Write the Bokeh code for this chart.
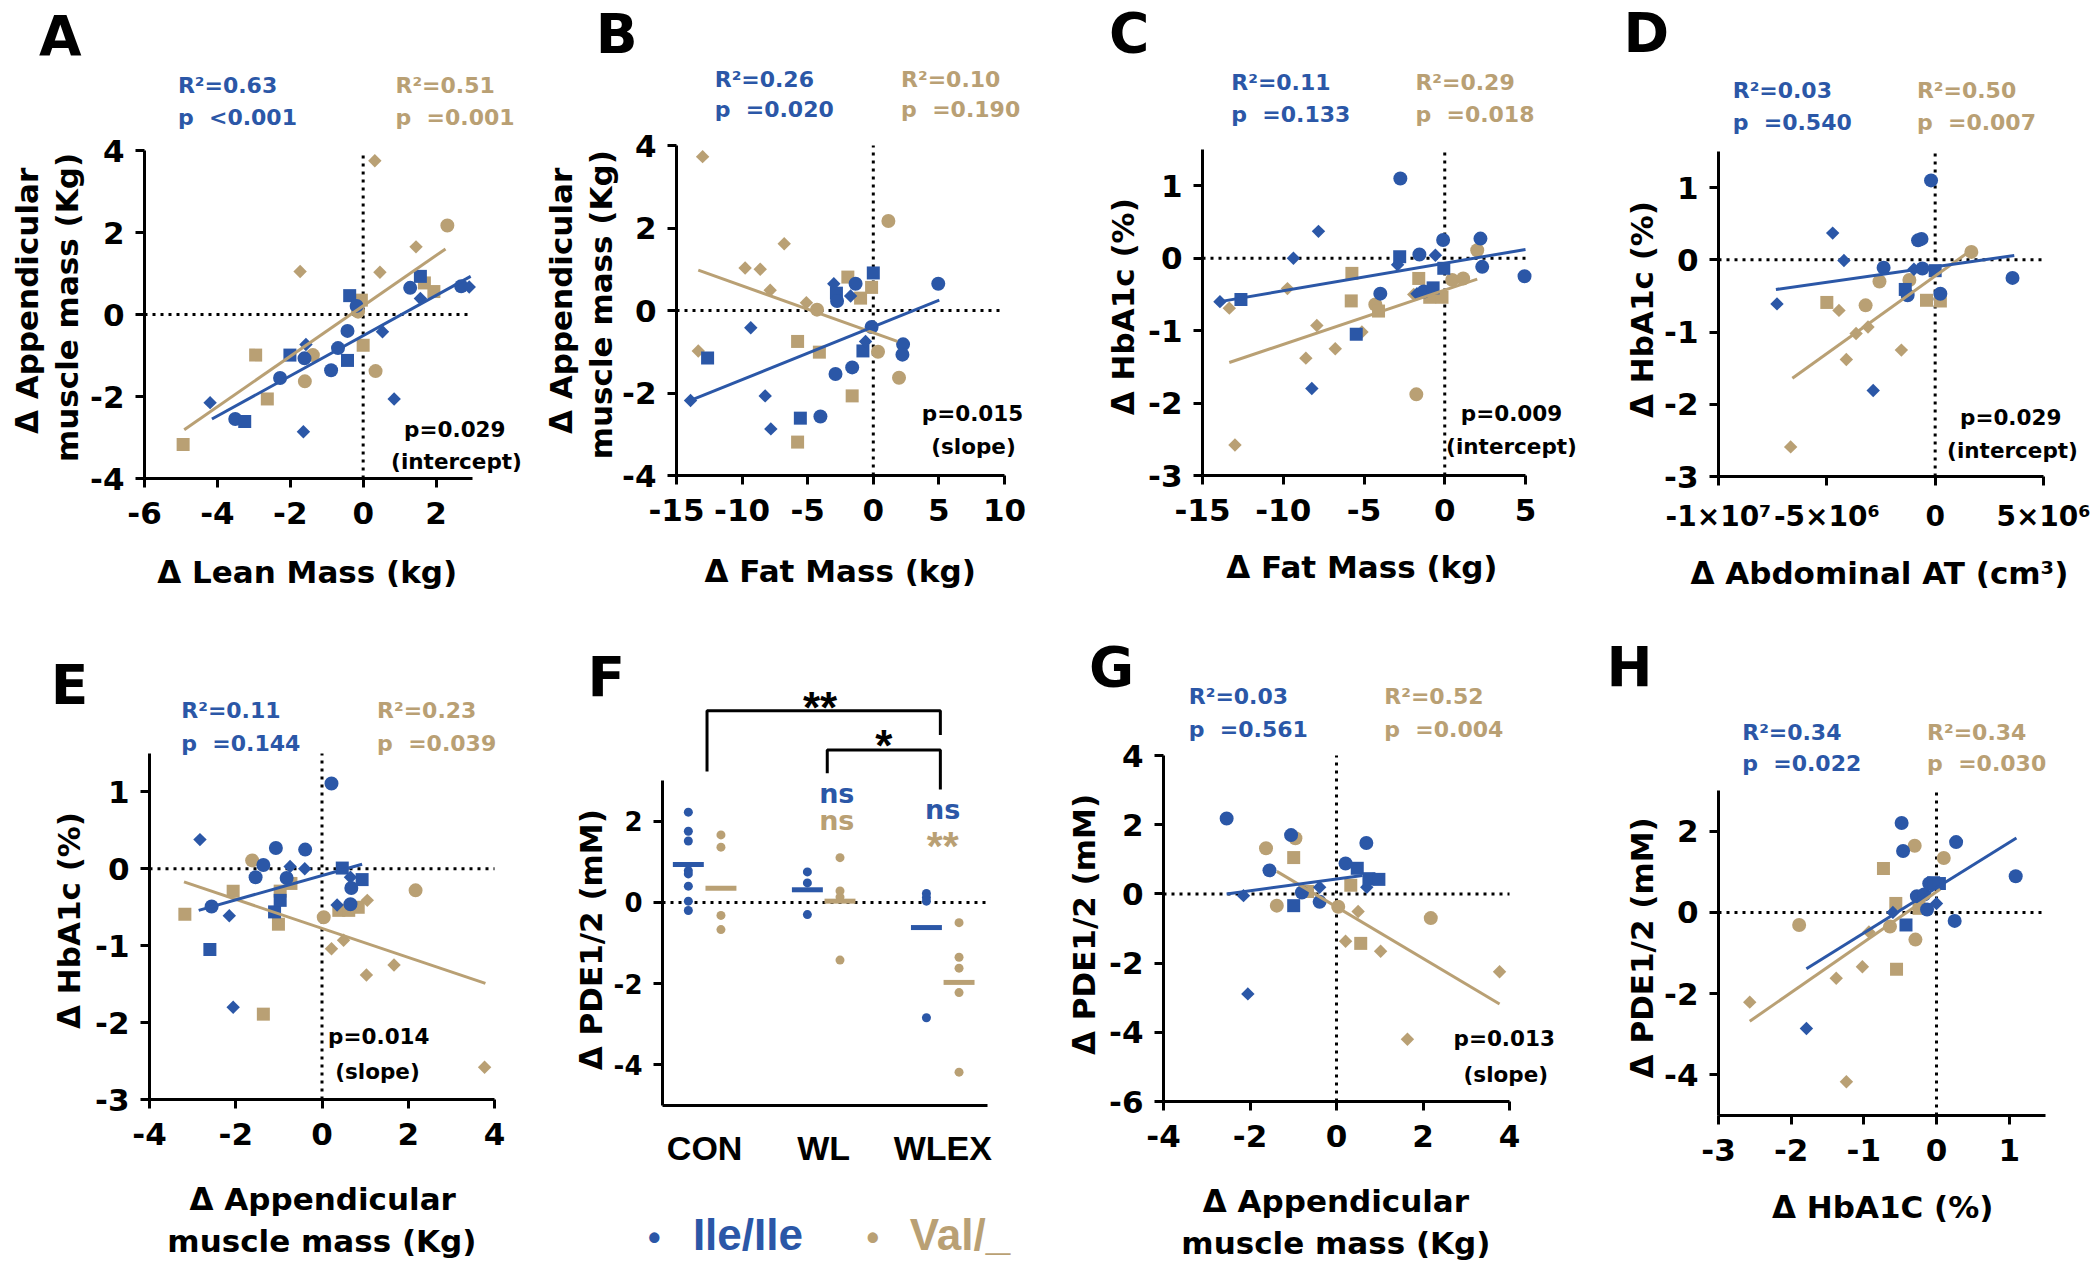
import numpy as np
from bokeh.plotting import figure
from bokeh.models import Range1d, Label, FixedTicker, ColumnDataSource, LinearAxis
from bokeh.layouts import row, column
from bokeh.embed import file_html
from bokeh.resources import INLINE

# ---------------- data ----------------
# marker codes: c = circle, s = square, d = diamond
A_xticks = [-6, -4, -2, 0, 2]
A_yticks = [-4, -2, 0, 2, 4]
A_ile_x = [-4.20, -3.51, -3.25, -2.28, -2.01, -1.61, -1.57, -1.64, -0.88, -0.69, -0.43, -0.43, -0.37, -0.18, 0.53, 0.85, 1.29, 1.57, 1.57, 2.69, 2.91]
A_ile_y = [-2.15, -2.55, -2.61, -1.55, -0.99, -1.07, -0.73, -2.86, -1.36, -0.82, -1.12, -0.40, 0.46, 0.21, -0.42, -2.06, 0.65, 0.93, 0.39, 0.69, 0.67]
A_ile_m = list("dcscscddccscscddcsdcd")
A_val_x = [-4.94, -2.95, -2.63, -1.73, -1.38, -1.60, -0.14, -0.05, 0.00, 0.32, 0.34, 0.46, 1.45, 1.68, 1.94, 2.31]
A_val_y = [-3.17, -0.99, -2.06, 1.05, -0.99, -1.63, 0.07, 0.35, -0.75, 3.75, -1.38, 1.03, 1.65, 0.77, 0.56, 2.17]
A_val_m = list("sssdcccssdcddssc")
A_ile_fit_x = [-4.15, 2.95]
A_ile_fit_y = [-2.55, 0.93]
A_val_fit_x = [-4.91, 2.26]
A_val_fit_y = [-2.81, 1.60]

B_xticks = [-15, -10, -5, 0, 5, 10]
B_yticks = [-4, -2, 0, 2, 4]
B_ile_x = [-13.93, -12.63, -9.34, -8.24, -7.81, -5.56, -4.03, -3.01, -2.81, -2.76, -2.88, -1.73, -1.35, -1.61, -0.79, -0.59, 0.00, -0.13, 2.27, 2.22, 4.95]
B_ile_y = [-2.18, -1.15, -0.42, -2.07, -2.87, -2.61, -2.57, 0.65, 0.42, 0.23, -1.54, 0.35, 0.65, -1.38, -0.98, -0.75, 0.91, -0.40, -0.82, -1.07, 0.65]
B_ile_m = list("dsdddscdsccdccsdscccc")
B_val_x = [-13.01, -13.34, -9.77, -8.62, -7.86, -6.79, -5.10, -4.29, -5.77, -4.11, -5.77, -1.94, -0.97, -0.13, -1.61, 0.36, 1.15, 1.96]
B_val_y = [3.73, -0.98, 1.03, 1.00, 0.49, 1.62, 0.19, 0.02, -0.75, -1.01, -3.19, 0.81, 0.30, 0.56, -2.07, -1.00, 2.17, -1.63]
B_val_m = list("dddddddcsssssssccc")
B_ile_fit_x = [-13.93, 5.03]
B_ile_fit_y = [-2.18, 0.25]
B_val_fit_x = [-13.34, 1.84]
B_val_fit_y = [0.98, -0.75]

C_xticks = [-15, -10, -5, 0, 5]
C_yticks = [-3, -2, -1, 0, 1]
C_ile_x = [-13.92, -12.62, -9.37, -7.82, -8.23, -5.48, -3.99, -2.75, -2.79, -2.92, -1.57, -1.72, -1.30, -0.72, -0.58, -0.10, -0.06, 2.21, 2.32, 4.94]
C_ile_y = [-0.60, -0.57, 0.00, 0.37, -1.80, -1.05, -0.49, 1.10, 0.02, -0.09, 0.05, -0.49, -0.46, -0.41, 0.04, 0.25, -0.14, 0.27, -0.12, -0.25]
C_ile_m = list("dsdddsccsdcdcsdcsccc")
C_val_x = [-13.34, -12.99, -9.74, -7.92, -8.60, -6.78, -5.13, -5.75, -5.79, -4.30, -4.10, -1.61, -1.92, -1.76, -0.93, -0.17, 0.46, 1.14, 2.01]
C_val_y = [-0.69, -2.58, -0.42, -0.93, -1.38, -1.25, -1.02, -0.21, -0.59, -0.64, -0.73, -0.28, -0.50, -1.88, -0.54, -0.54, -0.30, -0.28, 0.11]
C_val_m = list("dddddddsscssdcssccc")
C_ile_fit_x = [-13.92, 5.0]
C_ile_fit_y = [-0.60, 0.12]
C_val_fit_x = [-13.34, 2.01]
C_val_fit_y = [-1.44, -0.29]

D_xticks = [-10000000, -5000000, 0, 5000000]
D_xlabels = ["-1×10⁷", "-5×10⁶", "0", "5×10⁶"]
D_yticks = [-3, -2, -1, 0, 1]
D_ile_x = [-7.30e6, -4.73e6, -4.21e6, -2.86e6, -2.38e6, -1.38e6, -1.27e6, -0.98e6, -0.79e6, -0.63e6, -0.59e6, -0.19e6, 0.0, 0.24e6, 3.57e6]
D_ile_y = [-0.61, 0.37, -0.01, -1.81, -0.11, -0.41, -0.49, -0.13, 0.27, 0.29, -0.12, 1.10, -0.15, -0.47, -0.25]
D_ile_m = list("ddddcscdccccscc")
D_val_x = [-6.67e6, -5.0e6, -4.44e6, -4.10e6, -3.65e6, -3.10e6, -3.21e6, -2.57e6, -1.56e6, -1.19e6, -0.40e6, 0.24e6, 1.67e6]
D_val_y = [-2.59, -0.59, -0.70, -1.38, -1.02, -0.93, -0.63, -0.30, -1.25, -0.28, -0.56, -0.57, 0.11]
D_val_m = list("dsddddccdcssc")
D_ile_fit_x = [-7.35e6, 3.65e6]
D_ile_fit_y = [-0.41, 0.06]
D_val_fit_x = [-6.59e6, 1.6e6]
D_val_fit_y = [-1.64, 0.12]

E_xticks = [-4, -2, 0, 2, 4]
E_yticks = [-3, -2, -1, 0, 1]
E_ile_x = [-2.83, -2.56, -2.60, -2.15, -2.06, -1.54, -1.36, -1.07, -1.10, -0.97, -0.82, -0.74, -0.40, -0.39, 0.22, 0.35, 0.47, 0.66, 0.68, 0.66, 0.93]
E_ile_y = [0.38, -0.49, -1.05, -0.61, -1.80, -0.11, 0.05, 0.27, -0.56, -0.41, -0.12, 0.03, 0.00, 0.25, 1.11, -0.47, 0.01, -0.11, -0.25, -0.46, -0.14]
E_ile_m = list("dcsddcccsscddccdsdccs")
E_val_x = [-3.18, -2.06, -1.62, -1.36, -1.01, -0.72, -0.97, 0.04, 0.22, 0.50, 0.39, 0.62, 0.84, 1.05, 1.03, 1.67, 2.17, 3.77]
E_val_y = [-0.59, -0.29, 0.11, -1.89, -0.72, -0.19, -0.29, -0.63, -1.04, -0.93, -0.54, -0.54, -0.50, -0.41, -1.38, -1.25, -0.28, -2.58]
E_val_m = list("sscsssscddsssdddcd")
E_ile_fit_x = [-2.86, 0.93]
E_ile_fit_y = [-0.54, 0.06]
E_val_fit_x = [-3.20, 3.79]
E_val_fit_y = [-0.17, -1.49]

F_groups = ["CON", "WL", "WLEX"]
F_yticks = [-4, -2, 0, 2]
F_ile_CON = [2.22, 1.75, 1.51, 0.78, 0.70, 0.40, 0.03, -0.20]
F_ile_WL = [0.75, 0.48, -0.30]
F_ile_WLEX = [0.22, 0.12, 0.03, -2.84]
F_val_CON = [1.66, 1.36, -0.32, -0.67]
F_val_WL = [1.10, 0.28, 0.13, -1.42]
F_val_WLEX = [-0.50, -1.35, -1.62, -2.22, -4.18]
F_ile_mean = [0.93, 0.31, -0.62]
F_val_mean = [0.35, 0.03, -1.97]
F_bracket_from = [0.02, 1.03]
F_bracket_to = [1.98, 1.98]
F_bracket_top = [4.72, 3.75]
F_bracket_left_end = [3.22, 3.18]
F_bracket_right_end = [4.12, 2.78]
F_bracket_text = ["**", "*"]

G_xticks = [-4, -2, 0, 2, 4]
G_yticks = [-6, -4, -2, 0, 2, 4]
G_ile_x = [-2.54, -2.15, -2.05, -1.55, -1.05, -0.99, -0.80, -0.39, -0.39, 0.21, 0.48, 0.69, 0.70, 0.75, 0.98]
G_ile_y = [2.18, -0.05, -2.89, 0.68, 1.70, -0.34, 0.04, 0.19, -0.23, 0.88, 0.74, 1.47, 0.19, 0.44, 0.42]
G_ile_m = list("cddccscdccscdss")
G_val_x = [-1.63, -1.38, -0.95, -0.99, -0.67, 0.04, 0.21, 0.33, 0.50, 0.56, 1.02, 1.64, 2.18, 3.77]
G_val_y = [1.32, -0.34, 1.61, 1.05, 0.07, -0.37, -1.37, 0.25, -0.51, -1.43, -1.66, -4.20, -0.70, -2.25]
G_val_m = list("cccsscdsdsddcd")
G_ile_fit_x = [-2.54, 0.60]
G_ile_fit_y = [0.0, 0.53]
G_val_fit_x = [-1.38, 3.77]
G_val_fit_y = [0.65, -3.18]

H_xticks = [-3, -2, -1, 0, 1]
H_yticks = [-4, -2, 0, 2]
H_ile_x = [-1.79, -0.60, -0.48, -0.46, -0.42, -0.27, -0.17, -0.13, -0.10, -0.04, 0.00, 0.04, 0.27, 0.25, 1.09]
H_ile_y = [-2.86, 0.00, 2.20, 1.51, -0.31, 0.40, 0.44, 0.07, 0.71, 0.73, 0.22, 0.71, 1.73, -0.21, 0.89]
H_ile_m = list("ddccsccccsdsccc")
H_val_x = [-2.57, -1.89, -1.38, -1.24, -1.02, -0.93, -0.73, -0.64, -0.56, -0.55, -0.30, -0.29, -0.24, 0.10]
H_val_y = [-2.21, -0.31, -1.62, -4.17, -1.34, -0.48, 1.08, -0.35, 0.22, -1.40, 1.64, -0.67, 0.10, 1.34]
H_val_m = list("dcddddscssccsc")
H_ile_fit_x = [-1.79, 1.10]
H_ile_fit_y = [-1.39, 1.83]
H_val_fit_x = [-2.57, 0.05]
H_val_fit_y = [-2.68, 0.57]

# ---------------- styling / layout ----------------
BLUE = "#2B57A7"
TAN = "#B9A074"
FONT = "DejaVu Sans"        # wide bold sans, matches the stretched lettering of the panels
FONT2 = "Liberation Sans"   # narrower sans for category labels and legend
NB = "\u00a0\u00a0"

COLS = [0, 528, 1052, 1597, 2098]   # page x boundaries of the 4 columns
ROWS = [0, 628, 1270]               # page y boundaries of the 2 rows

MARK = {"c": ("circle", 14, 0.0), "s": ("square", 13, 0.0), "d": ("square", 9.5, np.pi / 4)}
TICK = 31
LETTER, STAT, NOTE, AXT, NS = 55, 22, 21.5, 31, 27
HALF_PI = np.pi / 2


def tick_labels(ticks):
    return [str(t) for t in ticks]


def style_axis(ax, ticks, labels, standoff):
    ax.ticker = FixedTicker(ticks=ticks)
    ax.major_label_overrides = dict(zip(ticks, labels))
    ax.axis_line_width = 3
    ax.axis_line_color = "black"
    ax.major_tick_line_width = 3
    ax.major_tick_line_color = "black"
    ax.major_tick_out = 9
    ax.major_tick_in = 0
    ax.minor_tick_line_color = None
    ax.major_label_text_font = FONT
    ax.major_label_text_font_style = "bold"
    ax.major_label_text_font_size = f"{TICK}px"
    ax.major_label_text_color = "black"
    ax.major_label_standoff = standoff


class Panel:
    """A figure filling one cell; the axes box sits at page pixels L,R,T,B."""

    def __init__(self, col, rw, frame, xr, yr, xticks, xlabels, yticks, ylabels):
        cx0, cx1 = COLS[col], COLS[col + 1]
        cy0, cy1 = ROWS[rw], ROWS[rw + 1]
        L, R, T, B = frame
        x0, x1 = xr
        y0, y1 = yr
        sx = (x1 - x0) / (R - L)
        sy = (y1 - y0) / (B - T)
        self.X0, self.X1 = x0 - (L - cx0) * sx, x1 + (cx1 - R) * sx
        self.Y0, self.Y1 = y0 - (cy1 - B) * sy, y1 + (T - cy0) * sy
        self.cx0, self.cx1, self.cy0, self.cy1 = cx0, cx1, cy0, cy1
        self.xr, self.yr = xr, yr
        p = figure(width=cx1 - cx0, height=cy1 - cy0,
                   x_range=Range1d(self.X0, self.X1), y_range=Range1d(self.Y0, self.Y1),
                   x_axis_type=None, y_axis_type=None, min_border=0,
                   output_backend="svg", toolbar_location=None, tools="")
        p.outline_line_color = None
        p.xgrid.visible = False
        p.ygrid.visible = False
        self.xaxis = LinearAxis(fixed_location=y0, bounds=(x0, x1))
        self.yaxis = LinearAxis(fixed_location=x0, bounds=(y0, y1))
        style_axis(self.xaxis, xticks, xlabels, 14)
        style_axis(self.yaxis, yticks, ylabels, 11)
        p.add_layout(self.xaxis, "below")
        p.add_layout(self.yaxis, "left")
        self.p = p

    def dx(self, px):
        return self.X0 + (px - self.cx0) / (self.cx1 - self.cx0) * (self.X1 - self.X0)

    def dy(self, py):
        return self.Y1 - (py - self.cy0) / (self.cy1 - self.cy0) * (self.Y1 - self.Y0)

    def text(self, px, py, s, size, color="black", align="left", angle=0.0, font=FONT):
        self.p.add_layout(Label(x=self.dx(px), y=self.dy(py), text=s, text_font=font,
                                text_font_style="bold", text_font_size=f"{size}px",
                                text_color=color, text_align=align, text_baseline="middle",
                                angle=angle))

    def zero_lines(self, vertical=True):
        x0, x1 = self.xr
        y0, y1 = self.yr
        self.p.line([x0, x1], [0, 0], line_color="black", line_width=3, line_dash="3 5")
        if vertical:
            self.p.line([0, 0], [y0, y1], line_color="black", line_width=3, line_dash="3 5")

    def points(self, xs, ys, ms, color):
        src = ColumnDataSource(dict(x=xs, y=ys,
                                    marker=[MARK[m][0] for m in ms],
                                    size=[MARK[m][1] for m in ms],
                                    angle=[MARK[m][2] for m in ms]))
        self.p.scatter("x", "y", source=src, marker="marker", size="size", angle="angle",
                       fill_color=color, line_color=None)

    def fit(self, xs, ys, color):
        self.p.line(xs, ys, line_width=3, line_color=color)


def scatter_panel(col, rw, frame, xr, yr, xt, xl, yt, yl, ile, val, ile_fit, val_fit):
    pn = Panel(col, rw, frame, xr, yr, xt, xl, yt, yl)
    pn.zero_lines()
    pn.points(*val, TAN)
    pn.points(*ile, BLUE)
    pn.fit(*val_fit, TAN)
    pn.fit(*ile_fit, BLUE)
    return pn


def stats(pn, letter, lpos, bx, tx, y1, y2, ile_txt, val_txt):
    pn.text(lpos[0], lpos[1], letter, LETTER)
    pn.text(bx, y1, ile_txt[0], STAT, BLUE)
    pn.text(bx, y2, ile_txt[1], STAT, BLUE)
    pn.text(tx, y1, val_txt[0], STAT, TAN)
    pn.text(tx, y2, val_txt[1], STAT, TAN)


# ---- A ----
pA = scatter_panel(0, 0, (144, 472, 150, 478), (-6, 3), (-4, 4), A_xticks, tick_labels(A_xticks),
                   A_yticks, tick_labels(A_yticks), (A_ile_x, A_ile_y, A_ile_m), (A_val_x, A_val_y, A_val_m),
                   (A_ile_fit_x, A_ile_fit_y), (A_val_fit_x, A_val_fit_y))
stats(pA, "A", (38.5, 35.4), 177.4, 395, 85.2, 116.7, ("R²=0.63", "p" + NB + "<0.001"), ("R²=0.51", "p" + NB + "=0.001"))
pA.text(454.3, 428.6, "p=0.029", NOTE, align="center")
pA.text(456, 461.2, "(intercept)", NOTE, align="center")
pA.text(306.7, 571.5, "Δ Lean Mass (kg)", AXT, align="center")
pA.text(26.8, 300.4, "Δ Appendicular", AXT, align="center", angle=HALF_PI)
pA.text(66, 307, "muscle mass (Kg)", AXT, align="center", angle=HALF_PI)

# ---- B ----
pB = scatter_panel(1, 0, (676, 1004, 145, 475), (-15, 10), (-4, 4), B_xticks, tick_labels(B_xticks),
                   B_yticks, tick_labels(B_yticks), (B_ile_x, B_ile_y, B_ile_m), (B_val_x, B_val_y, B_val_m),
                   (B_ile_fit_x, B_ile_fit_y), (B_val_fit_x, B_val_fit_y))
stats(pB, "B", (595.3, 33.5), 714.2, 900.6, 78.5, 109, ("R²=0.26", "p" + NB + "=0.020"), ("R²=0.10", "p" + NB + "=0.190"))
pB.text(972, 412.5, "p=0.015", NOTE, align="center")
pB.text(973, 445.8, "(slope)", NOTE, align="center")
pB.text(839.7, 570.2, "Δ Fat Mass (kg)", AXT, align="center")
pB.text(560, 300.4, "Δ Appendicular", AXT, align="center", angle=HALF_PI)
pB.text(600.3, 304.2, "muscle mass (Kg)", AXT, align="center", angle=HALF_PI)

# ---- C ----
pC = scatter_panel(2, 0, (1202, 1525, 149, 475), (-15, 5), (-3, 1.5), C_xticks, tick_labels(C_xticks),
                   C_yticks, tick_labels(C_yticks), (C_ile_x, C_ile_y, C_ile_m), (C_val_x, C_val_y, C_val_m),
                   (C_ile_fit_x, C_ile_fit_y), (C_val_fit_x, C_val_fit_y))
stats(pC, "C", (1108.6, 32.5), 1230.8, 1414.9, 82.3, 114, ("R²=0.11", "p" + NB + "=0.133"), ("R²=0.29", "p" + NB + "=0.018"))
pC.text(1511, 413.3, "p=0.009", NOTE, align="center")
pC.text(1511, 445.8, "(intercept)", NOTE, align="center")
pC.text(1361.4, 566.4, "Δ Fat Mass (kg)", AXT, align="center")
pC.text(1122, 306.2, "Δ HbA1c (%)", AXT, align="center", angle=HALF_PI)

# ---- D ----
pD = scatter_panel(3, 0, (1718, 2043, 151, 476), (-1e7, 5e6), (-3, 1.5), D_xticks, D_xlabels,
                   D_yticks, tick_labels(D_yticks), (D_ile_x, D_ile_y, D_ile_m), (D_val_x, D_val_y, D_val_m),
                   (D_ile_fit_x, D_ile_fit_y), (D_val_fit_x, D_val_fit_y))
pD.xaxis.major_label_text_font_size = "28px"
stats(pD, "D", (1623, 32.5), 1732.2, 1916.4, 90, 121.7, ("R²=0.03", "p" + NB + "=0.540"), ("R²=0.50", "p" + NB + "=0.007"))
pD.text(2010.2, 417.1, "p=0.029", NOTE, align="center")
pD.text(2012, 449.7, "(intercept)", NOTE, align="center")
pD.text(1878.9, 572.1, "Δ Abdominal AT (cm³)", AXT, align="center")
pD.text(1641.8, 309, "Δ HbA1c (%)", AXT, align="center", angle=HALF_PI)

# ---- E ----
pE = scatter_panel(0, 1, (149, 494, 753, 1099), (-4, 4), (-3, 1.5), E_xticks, tick_labels(E_xticks),
                   E_yticks, tick_labels(E_yticks), (E_ile_x, E_ile_y, E_ile_m), (E_val_x, E_val_y, E_val_m),
                   (E_ile_fit_x, E_ile_fit_y), (E_val_fit_x, E_val_fit_y))
stats(pE, "E", (50.2, 684.5), 180.8, 376.6, 709.6, 743.1, ("R²=0.11", "p" + NB + "=0.144"), ("R²=0.23", "p" + NB + "=0.039"))
pE.text(378.3, 1036.3, "p=0.014", NOTE, align="center")
pE.text(377, 1070.7, "(slope)", NOTE, align="center")
pE.text(322.2, 1198, "Δ Appendicular", AXT, align="center")
pE.text(321.4, 1240.5, "muscle mass (Kg)", AXT, align="center")
pE.text(68.6, 920, "Δ HbA1c (%)", AXT, align="center", angle=HALF_PI)

# ---- F ----
pF = Panel(1, 1, (662, 987, 780, 1105), (-0.354, 2.376), (-5, 3), [0, 1, 2], F_groups,
           F_yticks, tick_labels(F_yticks))
pF.xaxis.major_tick_line_color = None
pF.xaxis.major_label_text_font = FONT2
pF.xaxis.major_label_text_font_size = "34px"
pF.xaxis.major_label_standoff = 14
pF.yaxis.major_label_text_font_size = "26px"
pF.zero_lines(vertical=False)
OFF, HALF_BAR = 0.137, 0.13
for g, (iv, vv) in enumerate(zip([F_ile_CON, F_ile_WL, F_ile_WLEX], [F_val_CON, F_val_WL, F_val_WLEX])):
    pF.p.scatter([g - OFF] * len(iv), iv, size=9, marker="circle", fill_color=BLUE, line_color=None)
    pF.p.scatter([g + OFF] * len(vv), vv, size=9, marker="circle", fill_color=TAN, line_color=None)
xs_g = np.arange(len(F_groups))
pF.p.segment(x0=xs_g - OFF - HALF_BAR, x1=xs_g - OFF + HALF_BAR, y0=F_ile_mean, y1=F_ile_mean,
             line_color=BLUE, line_width=5)
pF.p.segment(x0=xs_g + OFF - HALF_BAR, x1=xs_g + OFF + HALF_BAR, y0=F_val_mean, y1=F_val_mean,
             line_color=TAN, line_width=5)
for xa, xb, top, le, re in zip(F_bracket_from, F_bracket_to, F_bracket_top, F_bracket_left_end, F_bracket_right_end):
    pF.p.line([xa, xa, xb, xb], [le, top, top, re], line_color="black", line_width=3)


def ftext(x, y, s, size, color, font=FONT):
    pF.p.add_layout(Label(x=x, y=y, text=s, text_font=font, text_font_style="bold",
                          text_font_size=f"{size}px", text_color=color, text_align="center",
                          text_baseline="middle"))


ftext(0.97, 4.80, F_bracket_text[0], 44, "black", FONT2)
ftext(1.505, 3.85, F_bracket_text[1], 44, "black", FONT2)
ftext(1.11, 2.67, "ns", NS, BLUE)
ftext(1.11, 2.02, "ns", NS, TAN)
ftext(2.0, 2.28, "ns", NS, BLUE)
ftext(2.0, 1.38, "**", 41, TAN, FONT2)
pF.text(586.9, 676.4, "F", LETTER)
pF.text(590.3, 939.2, "Δ PDE1/2 (mM)", AXT, align="center", angle=HALF_PI)
pF.text(653.9, 1237, "•", 36, BLUE, align="center", font=FONT2)
pF.text(692.4, 1234.4, "Ile/Ile", 44, BLUE, font=FONT2)
pF.text(872.2, 1237, "•", 36, TAN, align="center", font=FONT2)
pF.text(909.3, 1234.4, "Val/_", 44, TAN, font=FONT2)

# ---- G ----
pG = scatter_panel(2, 1, (1163, 1509, 755, 1101), (-4, 4), (-6, 4), G_xticks, tick_labels(G_xticks),
                   G_yticks, tick_labels(G_yticks), (G_ile_x, G_ile_y, G_ile_m), (G_val_x, G_val_y, G_val_m),
                   (G_ile_fit_x, G_ile_fit_y), (G_val_fit_x, G_val_fit_y))
stats(pG, "G", (1088.5, 666.3), 1188.3, 1383.8, 695.8, 729, ("R²=0.03", "p" + NB + "=0.561"), ("R²=0.52", "p" + NB + "=0.004"))
pG.text(1503.7, 1038.3, "p=0.013", NOTE, align="center")
pG.text(1505.3, 1073.5, "(slope)", NOTE, align="center")
pG.text(1335.4, 1200, "Δ Appendicular", AXT, align="center")
pG.text(1335.4, 1242.5, "muscle mass (Kg)", AXT, align="center")
pG.text(1083.5, 924, "Δ PDE1/2 (mM)", AXT, align="center", angle=HALF_PI)

# ---- H ----
pH = scatter_panel(3, 1, (1718, 2045, 790, 1115), (-3, 1.5), (-5, 3), H_xticks, tick_labels(H_xticks),
                   H_yticks, tick_labels(H_yticks), (H_ile_x, H_ile_y, H_ile_m), (H_val_x, H_val_y, H_val_m),
                   (H_ile_fit_x, H_ile_fit_y), (H_val_fit_x, H_val_fit_y))
stats(pH, "H", (1606, 666.3), 1741.7, 1926.6, 732.2, 763.3, ("R²=0.34", "p" + NB + "=0.022"), ("R²=0.34", "p" + NB + "=0.030"))
pH.text(1882.3, 1206, "Δ HbA1C (%)", AXT, align="center")
pH.text(1641.8, 947.3, "Δ PDE1/2 (mM)", AXT, align="center", angle=HALF_PI)

layout = column(row(pA.p, pB.p, pC.p, pD.p), row(pE.p, pF.p, pG.p, pH.p))
open("out.html", "w").write(file_html(layout, INLINE))
